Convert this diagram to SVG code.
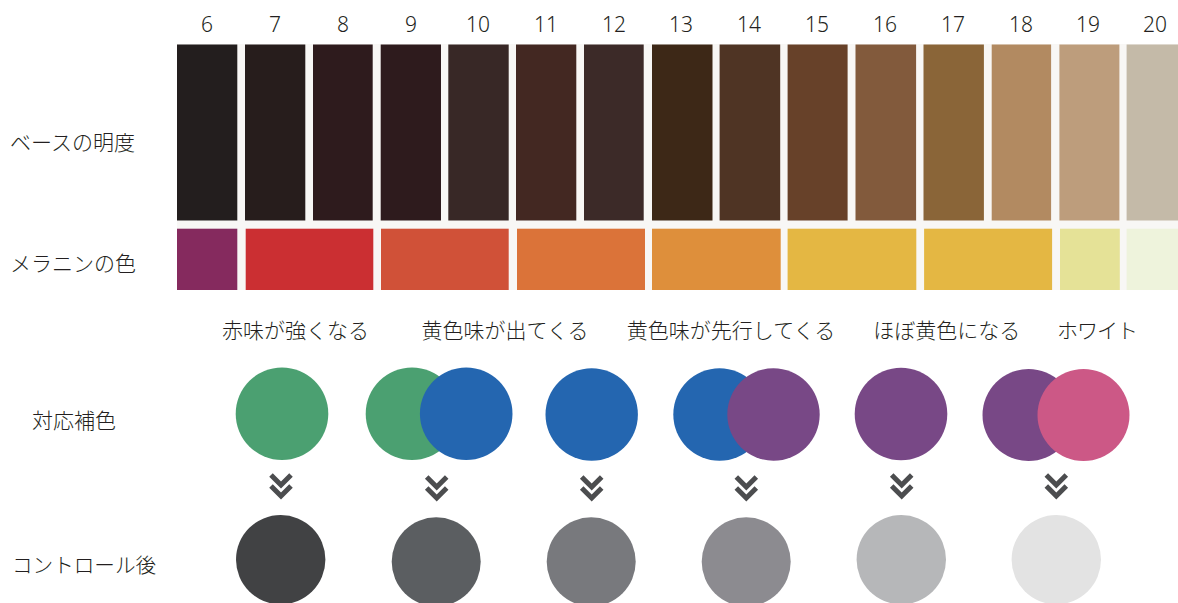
<svg xmlns="http://www.w3.org/2000/svg" width="1178" height="603" viewBox="0 0 1178 603">
<defs>
<style>
.num{font-family:"Noto Sans","Liberation Sans",sans-serif;font-size:21px;font-weight:300;fill:#231f20;text-anchor:middle}
.jp{font-family:"Noto Sans CJK JP","Noto Sans",sans-serif;font-size:21px;font-weight:300;fill:#231f20}
.col{text-anchor:middle}
.chev{fill:none;stroke:#4c4d4f;stroke-width:5}
</style>
<g id="chevron">
<polyline class="chev" points="-10,-12 0,-2 10,-12"/>
<polyline class="chev" points="-10,-1 0,9 10,-1"/>
</g>
</defs>
<rect width="1178" height="603" fill="#ffffff"/>
<g id="band">
<rect x="177" y="44" width="1001" height="246" fill="#f8f7f5"/>
</g>
<g id="numbers">
<text class="num" x="207" y="32">6</text>
<text class="num" x="275" y="32">7</text>
<text class="num" x="343" y="32">8</text>
<text class="num" x="411" y="32">9</text>
<text class="num" x="478" y="32">10</text>
<text class="num" x="546" y="32">11</text>
<text class="num" x="614" y="32">12</text>
<text class="num" x="681" y="32">13</text>
<text class="num" x="749" y="32">14</text>
<text class="num" x="817" y="32">15</text>
<text class="num" x="885" y="32">16</text>
<text class="num" x="953" y="32">17</text>
<text class="num" x="1021" y="32">18</text>
<text class="num" x="1088" y="32">19</text>
<text class="num" x="1155" y="32">20</text>
</g>
<g id="base-swatches">
<rect x="177" y="44.5" width="60.3" height="176" fill="#231e1e"/>
<rect x="245" y="44.5" width="60.3" height="176" fill="#271d1c"/>
<rect x="313" y="44.5" width="59.7" height="176" fill="#2e1b1d"/>
<rect x="380.7" y="44.5" width="60.3" height="176" fill="#2e1b1d"/>
<rect x="448.3" y="44.5" width="60.4" height="176" fill="#382826"/>
<rect x="516" y="44.5" width="60.3" height="176" fill="#432822"/>
<rect x="584" y="44.5" width="59.7" height="176" fill="#3c2a28"/>
<rect x="652" y="44.5" width="60.5" height="176" fill="#3d2817"/>
<rect x="719.6" y="44.5" width="60.6" height="176" fill="#4f3424"/>
<rect x="787.6" y="44.5" width="60" height="176" fill="#674129"/>
<rect x="855.5" y="44.5" width="60.6" height="176" fill="#825a3c"/>
<rect x="923.5" y="44.5" width="60.4" height="176" fill="#8a6538"/>
<rect x="991.7" y="44.5" width="59.4" height="176" fill="#b28a61"/>
<rect x="1059.4" y="44.5" width="60" height="176" fill="#bd9d7c"/>
<rect x="1126.6" y="44.5" width="51.4" height="176" fill="#c4baa8"/>
</g>
<g id="melanin-bars">
<rect x="177" y="228.7" width="60.3" height="61.3" fill="#852a5e"/>
<rect x="245.7" y="228.7" width="127.6" height="61.3" fill="#cb2f32"/>
<rect x="381" y="228.7" width="127.7" height="61.3" fill="#d05138"/>
<rect x="517" y="228.7" width="128" height="61.3" fill="#db7339"/>
<rect x="652" y="228.7" width="128.7" height="61.3" fill="#de8f3b"/>
<rect x="787.6" y="228.7" width="128.7" height="61.3" fill="#e4b743"/>
<rect x="924.1" y="228.7" width="128" height="61.3" fill="#e4b743"/>
<rect x="1060" y="228.7" width="59.8" height="61.3" fill="#e5e297"/>
<rect x="1126.6" y="228.7" width="51.4" height="61.3" fill="#eef3dc"/>
</g>
<g id="row-labels">
<text class="jp" x="10" y="150">ベースの明度</text>
<text class="jp" x="10" y="271">メラニンの色</text>
<text class="jp" x="32" y="428">対応補色</text>
<text class="jp" x="12" y="573" style="font-size:20.6px">コントロール後</text>
</g>
<g id="column-labels">
<text class="jp col" x="295.5" y="338">赤味が強くなる</text>
<text class="jp col" x="505" y="338">黄色味が出てくる</text>
<text class="jp col" x="731" y="338">黄色味が先行してくる</text>
<text class="jp col" x="946.8" y="338">ほぼ黄色になる</text>
<text class="jp col" x="1097" y="338" style="letter-spacing:-1px">ホワイト</text>
</g>
<g id="complement-1"><circle cx="282" cy="413.7" r="46.3" fill="#4ba071"/></g>
<g id="complement-2">
<circle cx="412" cy="413.7" r="46.3" fill="#4ba071"/>
<circle cx="466.2" cy="413.7" r="46.3" fill="#2466b0"/>
</g>
<g id="complement-3"><circle cx="591.7" cy="414.5" r="46.2" fill="#2466b0"/></g>
<g id="complement-4">
<circle cx="719.5" cy="414.5" r="46.2" fill="#2466b0"/>
<circle cx="773.5" cy="414.5" r="46.2" fill="#784886"/>
</g>
<g id="complement-5"><circle cx="901" cy="414" r="46.3" fill="#784886"/></g>
<g id="complement-6">
<circle cx="1028.5" cy="415" r="46" fill="#784886"/>
<circle cx="1083.5" cy="415" r="46" fill="#cc5886"/>
</g>
<g id="connectors">
<use href="#chevron" x="281" y="487"/>
<use href="#chevron" x="436.7" y="489"/>
<use href="#chevron" x="591.7" y="489"/>
<use href="#chevron" x="746.3" y="489"/>
<use href="#chevron" x="901.7" y="487"/>
<use href="#chevron" x="1056.3" y="487"/>
</g>
<g id="result-1"><circle cx="280.7" cy="559.7" r="44.7" fill="#414244"/></g>
<g id="result-2"><circle cx="436.2" cy="561.8" r="44.5" fill="#5b5e61"/></g>
<g id="result-3"><circle cx="591.2" cy="561.8" r="44.5" fill="#78797d"/></g>
<g id="result-4"><circle cx="746.2" cy="561.8" r="44.5" fill="#8c8b90"/></g>
<g id="result-5"><circle cx="901.3" cy="559.7" r="44.7" fill="#b6b7b9"/></g>
<g id="result-6"><circle cx="1056.3" cy="559.7" r="44.7" fill="#e3e3e3"/></g>
</svg>
